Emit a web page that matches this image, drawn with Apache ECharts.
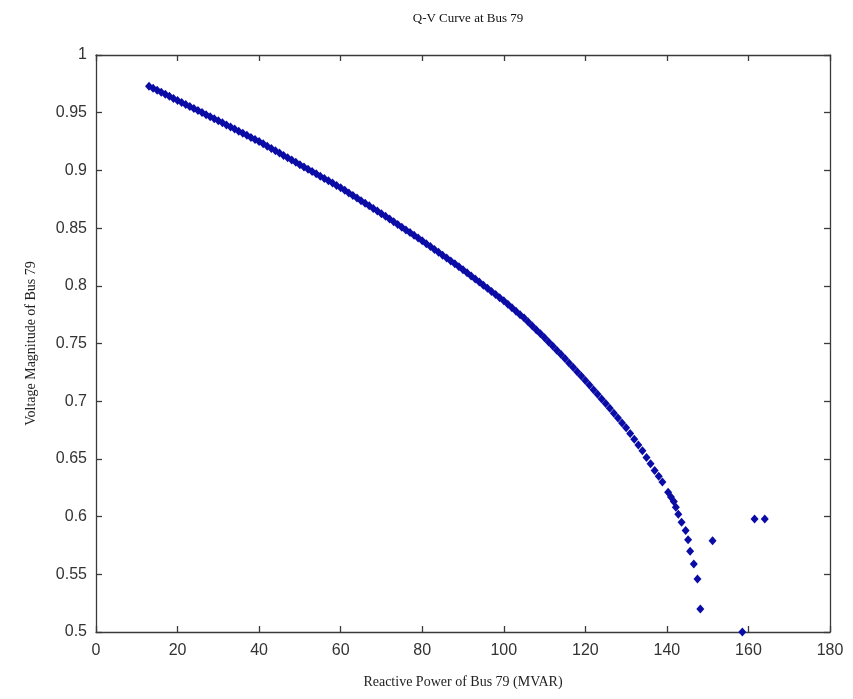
<!DOCTYPE html>
<html>
<head>
<meta charset="utf-8">
<script src="https://cdn.jsdelivr.net/npm/echarts@6/dist/echarts.min.js"></script>
<style>
html,body{margin:0;padding:0;background:#fff;}
#chart{width:853px;height:699px;}
</style>
</head>
<body>
<div id="chart"></div>
<script>
// Reactive power (MVAR) of Bus 79
const reactivePower = [
  13,14,15,16,17,18,19,20,21,22,23,24,25,26,27,28,29,30,
  31,32,33,34,35,36,37,38,39,40,41,42,43,44,45,46,47,48,49,50,
  51,52,53,54,55,56,57,58,59,60,61,62,63,64,65,66,67,68,69,70,
  71,72,73,74,75,76,77,78,79,80,81,82,83,84,85,86,87,88,89,90,
  91,92,93,94,95,96,97,98,99,100,101,102,103,104,105,106,107,108,109,110,
  111,112,113,114,115,116,117,118,119,120,121,122,123,124,125,126,127,128,129,130,
  131,132,133,134,135,136,137,138,138.9,140.3,141.0,141.7,142.2,142.8,143.6,144.6,
  145.2,145.7,146.6,147.5,148.2,151.2,158.5,161.5,164
];
// Voltage magnitude (p.u.) of Bus 79
const voltageMagnitude = [
  0.973,0.9712,0.9695,0.9677,0.9659,0.9642,0.9624,0.9606,0.9589,0.9571,0.9554,0.9536,0.9518,0.9501,0.9483,0.9465,0.9448,0.943,
  0.9412,0.9394,0.9376,0.9358,0.934,0.9322,0.9304,0.9286,0.9268,0.925,0.923,0.921,0.919,0.917,0.915,0.913,0.911,0.909,0.907,0.905,
  0.903,0.901,0.899,0.897,0.895,0.893,0.891,0.889,0.887,0.885,0.8828,0.8805,0.8783,0.876,0.8738,0.8715,0.8693,0.867,0.8648,0.8625,
  0.8602,0.8578,0.8555,0.8531,0.8508,0.8484,0.8461,0.8437,0.8414,0.839,0.8365,0.834,0.8315,0.829,0.8265,0.824,0.8215,0.819,0.8165,0.814,
  0.8113,0.8086,0.8059,0.8032,0.8005,0.7978,0.7951,0.7924,0.7897,0.787,0.784,0.781,0.778,0.775,0.772,0.7686,0.7652,0.7618,0.7584,0.755,
  0.7514,0.7478,0.7442,0.7406,0.737,0.7332,0.7294,0.7256,0.7218,0.718,0.714,0.710,0.706,0.702,0.698,0.6938,0.6896,0.6854,0.6812,0.677,
  0.672,0.667,0.662,0.657,0.6513,0.6457,0.640,0.635,0.630,0.621,0.617,0.613,0.608,0.602,0.595,0.588,
  0.580,0.570,0.559,0.546,0.520,0.579,0.500,0.598,0.598
];
const xTicks = [0,20,40,60,80,100,120,140,160,180];
const yTicks = [0.5,0.55,0.6,0.65,0.7,0.75,0.8,0.85,0.9,0.95,1];

const points = reactivePower.map((q, i) => [q, voltageMagnitude[i]]);
const serif = '"Liberation Serif","DejaVu Serif",serif';
const sans = '"Liberation Sans",Arial,sans-serif';
const lineStyle = { color: '#3a3a3a', width: 1.3 };

const chart = echarts.init(document.getElementById('chart'), null, { renderer: 'canvas' });
chart.setOption({
  backgroundColor: '#ffffff',
  animation: false,
  title: {
    text: 'Q-V Curve at Bus 79',
    left: 463, top: 7, textAlign: 'center',
    textStyle: { fontFamily: serif, fontSize: 13, fontWeight: 'normal', color: '#111' }
  },
  grid: { left: 96, right: 23, top: 55, bottom: 67, containLabel: false },
  xAxis: [{
    type: 'value', min: xTicks[0], max: xTicks[xTicks.length - 1], interval: 20,
    name: 'Reactive Power of Bus 79 (MVAR)', nameLocation: 'middle', nameGap: 43,
    nameTextStyle: { fontFamily: serif, fontSize: 14, color: '#222' },
    axisLine: { show: true, lineStyle: lineStyle },
    axisTick: { show: true, inside: true, length: 6, lineStyle: lineStyle },
    axisLabel: { fontFamily: sans, fontSize: 16, color: '#333', margin: 11 },
    splitLine: { show: false }
  }, {
    type: 'value', position: 'top', min: xTicks[0], max: xTicks[xTicks.length - 1], interval: 20,
    axisLine: { show: true, onZero: false, lineStyle: lineStyle },
    axisTick: { show: true, inside: true, length: 6, lineStyle: lineStyle },
    axisLabel: { show: false }, splitLine: { show: false }
  }],
  yAxis: [{
    type: 'value', min: yTicks[0], max: yTicks[yTicks.length - 1], interval: 0.05,
    name: 'Voltage Magnitude of Bus 79', nameLocation: 'middle', nameGap: 58,
    nameTextStyle: { fontFamily: serif, fontSize: 14, color: '#222' },
    axisLine: { show: true, lineStyle: lineStyle },
    axisTick: { show: true, inside: true, length: 6, lineStyle: lineStyle },
    axisLabel: { fontFamily: sans, fontSize: 16, color: '#333', margin: 9 },
    splitLine: { show: false }
  }, {
    type: 'value', position: 'right', min: yTicks[0], max: yTicks[yTicks.length - 1], interval: 0.05,
    axisLine: { show: true, onZero: false, lineStyle: lineStyle },
    axisTick: { show: true, inside: true, length: 6, lineStyle: lineStyle },
    axisLabel: { show: false }, splitLine: { show: false }
  }],
  series: [{
    type: 'scatter',
    xAxisIndex: 0, yAxisIndex: 0,
    data: points,
    symbol: 'diamond',
    symbolSize: [8, 9],
    itemStyle: { color: '#0b0ba6', opacity: 1 },
    clip: false
  }]
});
</script>
</body>
</html>
